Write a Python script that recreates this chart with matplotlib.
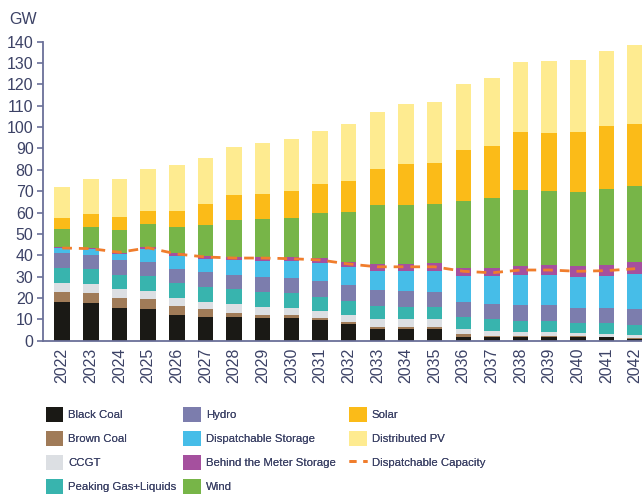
import matplotlib.pyplot as plt
import numpy as np
from matplotlib.patches import Patch
from matplotlib.lines import Line2D

years = [str(y) for y in range(2022, 2043)]

black_coal = [17.9, 17.5, 15.1, 14.7, 11.9, 11.2, 11.2, 10.6, 10.6, 9.5, 7.6,
              5.3, 5.3, 5.3, 1.6, 1.9, 1.9, 1.9, 1.9, 1.7, 0.9]
brown_coal = [4.9, 5.0, 4.7, 4.7, 4.3, 3.5, 1.9, 1.4, 1.3, 1.3, 1.0,
              1.3, 1.3, 1.3, 1.5, 0.3, 0.3, 0.1, 0.1, 0.2, 0.2]
ccgt = [4.4, 4.0, 4.2, 3.7, 3.6, 3.6, 3.9, 3.6, 3.2, 3.2, 3.4,
        3.4, 3.4, 3.4, 2.5, 2.3, 1.9, 2.1, 1.4, 1.4, 1.4]
peaking = [7.0, 7.2, 6.7, 7.2, 7.0, 6.7, 7.2, 7.0, 7.1, 6.6, 6.7,
           6.2, 5.9, 5.6, 5.6, 5.6, 5.3, 5.3, 5.0, 4.8, 4.8]
hydro = [6.7, 6.4, 6.9, 6.7, 6.8, 7.0, 6.5, 7.1, 7.0, 7.3, 7.4,
         7.5, 7.4, 7.2, 7.1, 7.1, 7.3, 7.1, 7.1, 7.4, 7.4]
disp_storage = [2.3, 2.7, 3.0, 5.8, 6.0, 6.4, 7.1, 7.6, 8.1, 8.3, 8.2,
                9.1, 9.5, 10.0, 12.1, 12.9, 14.0, 14.2, 14.5, 14.8, 16.4]
btm_storage = [0.5, 0.7, 0.6, 1.2, 1.3, 1.2, 1.5, 2.0, 2.0, 2.5, 2.7,
               2.9, 3.1, 3.4, 3.6, 3.9, 4.3, 4.6, 5.0, 5.3, 5.7]
wind = [8.4, 9.6, 10.6, 10.6, 12.2, 14.4, 17.4, 17.7, 18.3, 21.2, 23.2,
        28.0, 27.8, 27.8, 31.4, 33.0, 35.4, 34.6, 34.8, 35.3, 35.5]
solar = [5.2, 6.2, 5.9, 6.1, 7.8, 10.0, 11.3, 11.7, 12.5, 13.5, 14.6,
         16.5, 18.9, 19.3, 23.9, 24.3, 27.3, 27.5, 27.9, 29.6, 29.3]
distributed_pv = [14.8, 16.4, 18.2, 19.8, 21.2, 21.7, 22.7, 23.7, 24.5, 24.9, 26.5,
                  27.0, 28.0, 28.6, 30.7, 31.8, 32.6, 33.4, 33.7, 35.1, 36.7]
dispatchable_capacity = [43.4, 43.1, 41.4, 43.5, 40.6, 39.2, 38.7, 38.7, 38.4, 37.8, 35.9,
                         34.6, 34.6, 34.6, 32.5, 31.8, 33.1, 33.1, 32.5, 32.8, 33.7]

series = [
    ("Black Coal", black_coal, "#1a1915"),
    ("Brown Coal", brown_coal, "#a07b58"),
    ("CCGT", ccgt, "#dcdfe3"),
    ("Peaking Gas+Liquids", peaking, "#38b4ae"),
    ("Hydro", hydro, "#7c7dad"),
    ("Dispatchable Storage", disp_storage, "#46bde8"),
    ("Behind the Meter Storage", btm_storage, "#a5509e"),
    ("Wind", wind, "#77b548"),
    ("Solar", solar, "#fbbb18"),
    ("Distributed PV", distributed_pv, "#feeb90"),
]

TEXT = "#3c4266"
SPINE = "#6a6f98"
ORANGE = "#f07d2c"

plt.rcParams["font.family"] = ["Liberation Sans", "DejaVu Sans"]

fig = plt.figure(figsize=(6.42, 4.97), dpi=100)
ax = fig.add_axes([43.3 / 642, (497 - 340.7) / 497, 1 - 43.3 / 642, 299 / 497])

x = np.arange(len(years))
bottom = np.zeros(len(years))
for name, vals, color in series:
    ax.bar(x, vals, width=0.54, bottom=bottom, color=color, edgecolor="none", zorder=2)
    bottom += np.array(vals)

ax.plot(x, dispatchable_capacity, color=ORANGE, lw=2, dashes=(3.5, 2.5), zorder=3)

ax.set_xlim(-0.66, 20.24)
ax.set_ylim(0, 140)
ax.set_yticks(range(0, 141, 10))
ax.set_xticks(x)
ax.set_xticklabels(years, rotation=90)
ax.tick_params(axis="y", labelsize=11.5, colors=TEXT, length=4, width=1.2, pad=3, color=SPINE)
ax.tick_params(axis="x", labelsize=11.5, colors=TEXT, length=0, pad=5)
for side in ["top", "right"]:
    ax.spines[side].set_visible(False)
ax.spines["left"].set_color(SPINE)
ax.spines["bottom"].set_color(SPINE)
ax.spines["left"].set_linewidth(1.3)
ax.spines["bottom"].set_linewidth(1.3)

fig.text(9 / 642, 1 - 24 / 497, "GW", fontsize=11.5, color=TEXT, fontweight="medium")

# legend in three hand-placed columns
handles = [Patch(facecolor=c, edgecolor="none") for _, _, c in series]
handles.append(Line2D([], [], color=ORANGE, lw=2, dashes=(2.5, 2.5)))
labels = [s[0] for s in series] + ["Dispatchable Capacity"]
columns = [(0, 4, 45.7), (4, 8, 183), (8, 11, 349)]
for start, stop, left in columns:
    leg = fig.legend(handles[start:stop], labels[start:stop], loc="upper left",
                     bbox_to_anchor=(left / 642, 1 - 407 / 497), frameon=False,
                     prop={"size": 8.2}, labelcolor=TEXT,
                     handlelength=1.55, handleheight=1.7, handletextpad=0.45,
                     labelspacing=0.75, borderpad=0, borderaxespad=0)
    fig.add_artist(leg)

fig.savefig("out.png", dpi=100)
